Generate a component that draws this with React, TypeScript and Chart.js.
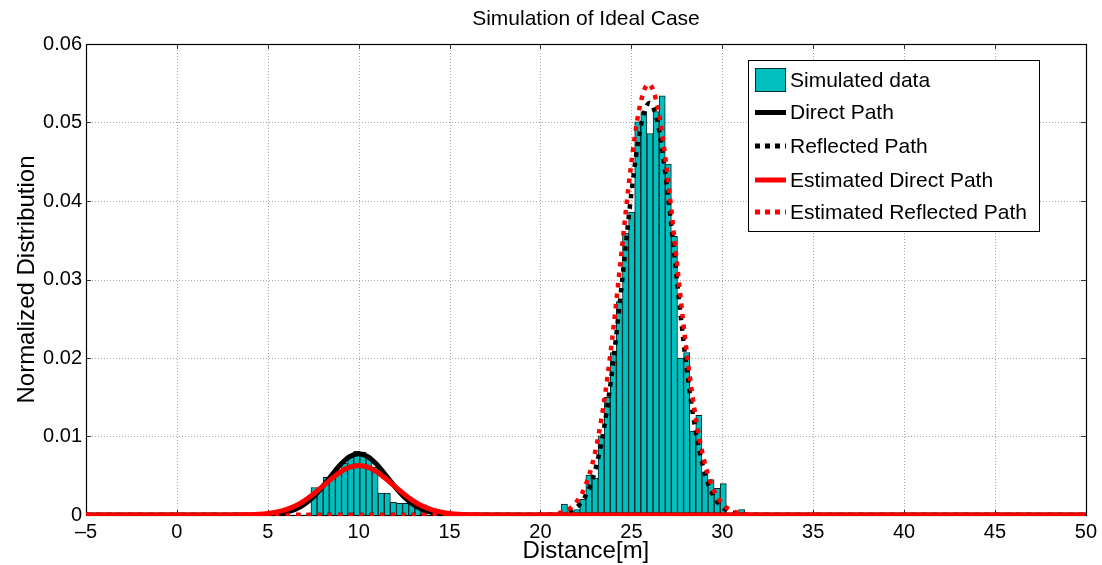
import React, { useEffect, useRef } from 'react';
import { Chart, registerables } from 'chart.js';

Chart.register(...registerables);

const FONT = '"Liberation Sans", Arial, Helvetica, sans-serif';

// ---- tick values / labels ----
const xTicks = [-5, 0, 5, 10, 15, 20, 25, 30, 35, 40, 45, 50];
const xTickLabels = ['\u20135', '0', '5', '10', '15', '20', '25', '30', '35', '40', '45', '50'];
const yTicks = [0, 0.01, 0.02, 0.03, 0.04, 0.05, 0.06];
const yTickLabels = ['0', '0.01', '0.02', '0.03', '0.04', '0.05', '0.06'];

// ---- histogram (Simulated data) ----
const binCentersNear = [7.542, 7.878, 8.214, 8.55, 8.886, 9.222, 9.558, 9.894, 10.23, 10.566, 10.902, 11.238, 11.574, 11.91, 12.246, 12.582, 12.918, 13.254, 13.59];
const countsNear = [0.0035, 0.0035, 0.0048, 0.0049, 0.0057, 0.0066, 0.0076, 0.0081, 0.008, 0.0073, 0.0061, 0.0028, 0.0028, 0.0016, 0.0015, 0.0015, 0.0014, 0.0013, 0.0013];
const binCentersFar = [21.318, 21.654, 21.99, 22.326, 22.662, 22.998, 23.334, 23.67, 24.006, 24.342, 24.678, 25.014, 25.35, 25.686, 26.022, 26.358, 26.694, 27.03, 27.366, 27.702, 28.038, 28.374, 28.71, 29.046, 29.382, 29.718, 30.054, 30.39, 30.726, 31.062];
const countsFar = [0.0014, 0, 0.0007, 0.002, 0.0051, 0.0047, 0.0101, 0.015, 0.0207, 0.0272, 0.0359, 0.0386, 0.0501, 0.0514, 0.0486, 0.0514, 0.0534, 0.0447, 0.0355, 0.02, 0.0207, 0.0107, 0.0127, 0.0053, 0.0045, 0.0034, 0.004, 0, 0, 0.0007];

// ---- Direct Path (black solid) ----
const directX = [-5, 4, 4.5, 5, 5.5, 6, 6.5, 7, 7.5, 8, 8.5, 9, 9.5, 10, 10.5, 11, 11.5, 12, 12.5, 13, 13.5, 14, 14.5, 15, 15.5, 16, 50];
const directY = [0, 0, 0.00001, 0.00006, 0.00015, 0.00034, 0.00071, 0.00134, 0.0023, 0.00357, 0.00503, 0.00642, 0.00743, 0.0078, 0.00743, 0.00642, 0.00503, 0.00357, 0.0023, 0.00134, 0.00071, 0.00034, 0.00015, 0.00006, 0.00001, 0, 0];

// ---- Reflected Path (black dotted) ----
const reflX = [-5, 20, 20.5, 21, 21.5, 22, 22.5, 23, 23.5, 24, 24.5, 25, 25.5, 26, 26.5, 27, 27.5, 28, 28.5, 29, 29.5, 30, 30.5, 31, 31.5, 32, 50];
const reflY = [0, 0.00001, 0.00003, 0.00011, 0.00035, 0.00099, 0.00252, 0.00563, 0.01115, 0.01947, 0.03005, 0.04097, 0.04934, 0.0525, 0.04934, 0.04097, 0.03005, 0.01947, 0.01115, 0.00563, 0.00252, 0.00099, 0.00035, 0.00011, 0.00003, 0.00001, 0];

// ---- Estimated Direct Path (red solid) ----
const estDirectX = [-5, 3, 3.5, 4, 4.5, 5, 5.5, 6, 6.5, 7, 7.5, 8, 8.5, 9, 9.5, 10, 10.5, 11, 11.5, 12, 12.5, 13, 13.5, 14, 14.5, 15, 15.5, 16, 16.5, 17, 50];
const estDirectY = [0, 0.000007, 0.000018, 0.000043, 0.000095, 0.0002, 0.00038, 0.00069, 0.00115, 0.00181, 0.00265, 0.00362, 0.00461, 0.00549, 0.00609, 0.0063, 0.00609, 0.00549, 0.00461, 0.00362, 0.00265, 0.00181, 0.00115, 0.00069, 0.00038, 0.0002, 0.000095, 0.000043, 0.000018, 0.000007, 0];

// ---- Estimated Reflected Path (red dotted) ----
const estReflX = [-5, 19.45, 19.95, 20.45, 20.95, 21.45, 21.95, 22.45, 22.95, 23.45, 23.95, 24.45, 24.95, 25.45, 25.95, 26.45, 26.95, 27.45, 27.95, 28.45, 28.95, 29.45, 29.95, 30.45, 30.95, 31.45, 31.95, 32.45, 50];
const estReflY = [0, 0.000004, 0.000018, 0.000066, 0.00021, 0.00061, 0.00157, 0.00361, 0.00743, 0.01369, 0.02257, 0.0333, 0.04396, 0.05193, 0.0549, 0.05193, 0.04396, 0.0333, 0.02257, 0.01369, 0.00743, 0.00361, 0.00157, 0.00061, 0.00021, 0.000066, 0.000018, 0.000004, 0];

const TEAL = '#00BFBF';

const pts = (xs: number[], ys: number[]) => xs.map((x, i) => ({ x, y: ys[i] }));

const legendItems = [
  { label: 'Simulated data', kind: 'box', color: TEAL, dash: [] as number[] },
  { label: 'Direct Path', kind: 'line', color: '#000000', dash: [] as number[] },
  { label: 'Reflected Path', kind: 'line', color: '#000000', dash: [5, 5] },
  { label: 'Estimated Direct Path', kind: 'line', color: '#ff0000', dash: [] as number[] },
  { label: 'Estimated Reflected Path', kind: 'line', color: '#ff0000', dash: [5, 5] },
];

const decorPlugin = {
  id: 'matlabDecor',
  beforeDatasetsDraw(chart: any) {
    const { ctx, chartArea: a, scales } = chart;
    const xs = scales.x;
    const ys = scales.y;
    ctx.save();
    // dotted grid
    ctx.strokeStyle = '#a8a8a8';
    ctx.lineWidth = 1;
    ctx.setLineDash([1, 2]);
    xTicks.forEach((v) => {
      if (v === xTicks[0] || v === xTicks[xTicks.length - 1]) return;
      const px = Math.round(xs.getPixelForValue(v)) + 0.5;
      ctx.beginPath();
      ctx.moveTo(px, a.top);
      ctx.lineTo(px, a.bottom);
      ctx.stroke();
    });
    yTicks.forEach((v) => {
      if (v === yTicks[0] || v === yTicks[yTicks.length - 1]) return;
      const py = Math.round(ys.getPixelForValue(v)) + 0.5;
      ctx.beginPath();
      ctx.moveTo(a.left, py);
      ctx.lineTo(a.right, py);
      ctx.stroke();
    });
    ctx.setLineDash([]);
    // inner tick marks
    ctx.strokeStyle = '#333';
    const tl = 5;
    xTicks.forEach((v) => {
      const px = Math.round(xs.getPixelForValue(v)) + 0.5;
      ctx.beginPath();
      ctx.moveTo(px, a.bottom);
      ctx.lineTo(px, a.bottom - tl);
      ctx.moveTo(px, a.top);
      ctx.lineTo(px, a.top + tl);
      ctx.stroke();
    });
    yTicks.forEach((v) => {
      const py = Math.round(ys.getPixelForValue(v)) + 0.5;
      ctx.beginPath();
      ctx.moveTo(a.left, py);
      ctx.lineTo(a.left + tl, py);
      ctx.moveTo(a.right, py);
      ctx.lineTo(a.right - tl, py);
      ctx.stroke();
    });
    // frame
    ctx.strokeStyle = '#000';
    ctx.lineWidth = 1.2;
    ctx.strokeRect(Math.round(a.left) + 0.5, Math.round(a.top) + 0.5, Math.round(a.right - a.left), Math.round(a.bottom - a.top));
    ctx.restore();
  },
  afterDraw(chart: any) {
    const { ctx, chartArea: a } = chart;
    const cx = (a.left + a.right) / 2;
    ctx.save();
    ctx.fillStyle = '#000';
    // title
    ctx.font = `21px ${FONT}`;
    ctx.textAlign = 'center';
    ctx.textBaseline = 'middle';
    ctx.fillText('Simulation of Ideal Case', cx, 19);
    // x axis title
    ctx.font = `24px ${FONT}`;
    ctx.fillText('Distance[m]', cx, 551);
    // y axis title
    ctx.save();
    ctx.translate(27, (a.top + a.bottom) / 2);
    ctx.rotate(-Math.PI / 2);
    ctx.fillText('Normalized Distribution', 0, 0);
    ctx.restore();

    // legend
    const lx = 748, ly = 60, lw = 291, lh = 171;
    ctx.fillStyle = '#fff';
    ctx.fillRect(lx, ly, lw, lh);
    ctx.strokeStyle = '#000';
    ctx.lineWidth = 1;
    ctx.strokeRect(lx + 0.5, ly + 0.5, lw, lh);
    const rows = [80, 112.5, 146, 180, 212];
    ctx.font = `21px ${FONT}`;
    ctx.textAlign = 'left';
    ctx.textBaseline = 'middle';
    legendItems.forEach((it, i) => {
      const y = rows[i];
      if (it.kind === 'box') {
        ctx.fillStyle = it.color;
        ctx.fillRect(755, y - 12, 31, 24);
        ctx.strokeStyle = '#033';
        ctx.lineWidth = 1;
        ctx.strokeRect(755.5, y - 11.5, 30, 23);
      } else {
        ctx.strokeStyle = it.color;
        ctx.lineWidth = 5;
        ctx.setLineDash(it.dash);
        ctx.beginPath();
        ctx.moveTo(755, y);
        ctx.lineTo(786, y);
        ctx.stroke();
        ctx.setLineDash([]);
      }
      ctx.fillStyle = '#000';
      ctx.fillText(it.label, 790, y + 1);
    });
    ctx.restore();
  },
};

export default function App() {
  const ref = useRef<HTMLCanvasElement>(null);
  useEffect(() => {
    if (!ref.current) return;
    Chart.defaults.font.family = FONT;
    const barData = [...pts(binCentersNear, countsNear), ...pts(binCentersFar, countsFar)];
    const lineBase = {
      type: 'line' as const,
      pointRadius: 0,
      pointHoverRadius: 0,
      fill: false,
      cubicInterpolationMode: 'monotone' as const,
      clip: { left: 3, right: 3, top: 3, bottom: 1 },
    };
    const chart = new Chart(ref.current, {
      type: 'bar',
      data: {
        datasets: [
          {
            type: 'bar',
            label: 'Simulated data',
            data: barData as any,
            backgroundColor: TEAL,
            borderColor: '#022',
            borderWidth: 1,
            barPercentage: 1,
            categoryPercentage: 1,
            order: 10,
          },
          { ...lineBase, label: 'Direct Path', data: pts(directX, directY) as any, borderColor: '#000', borderWidth: 5, order: 4 },
          { ...lineBase, label: 'Reflected Path', data: pts(reflX, reflY) as any, borderColor: '#000', borderWidth: 4.5, borderDash: [4.5, 6], order: 3 },
          { ...lineBase, label: 'Estimated Direct Path', data: pts(estDirectX, estDirectY) as any, borderColor: '#ff0000', borderWidth: 5, order: 2 },
          { ...lineBase, label: 'Estimated Reflected Path', data: pts(estReflX, estReflY) as any, borderColor: '#ff0000', borderWidth: 4.5, borderDash: [4.5, 6], order: 1 },
        ] as any,
      },
      options: {
        animation: false,
        responsive: true,
        maintainAspectRatio: false,
        devicePixelRatio: 1,
        layout: { padding: { left: 0, top: 44, right: 14, bottom: 0 } },
        plugins: { legend: { display: false }, title: { display: false }, tooltip: { enabled: false } },
        events: [],
        scales: {
          x: {
            type: 'linear',
            min: -5,
            max: 50,
            offset: false,
            grid: { display: false, offset: false, drawTicks: false },
            border: { display: false },
            afterFit: (s: any) => { s.height = 50; },
            afterBuildTicks: (s: any) => { s.ticks = xTicks.map((v) => ({ value: v })); },
            ticks: {
              padding: 5,
              color: '#000',
              font: { size: 20, family: FONT },
              maxRotation: 0,
              minRotation: 0,
              autoSkip: false,
              callback: (_v: any, i: number) => xTickLabels[i],
            },
          },
          y: {
            type: 'linear',
            min: 0,
            max: 0.06,
            grid: { display: false, drawTicks: false },
            border: { display: false },
            afterFit: (s: any) => { s.width = 86; },
            afterBuildTicks: (s: any) => { s.ticks = yTicks.map((v) => ({ value: v })); },
            ticks: {
              padding: 4,
              color: '#000',
              font: { size: 20, family: FONT },
              autoSkip: false,
              callback: (_v: any, i: number) => yTickLabels[i],
            },
          },
        },
      } as any,
      plugins: [decorPlugin],
    });
    return () => chart.destroy();
  }, []);
  return (
    <div style={{ position: 'fixed', left: 0, top: 0, width: 1102, height: 565, background: '#fff' }}>
      <canvas ref={ref} />
    </div>
  );
}
